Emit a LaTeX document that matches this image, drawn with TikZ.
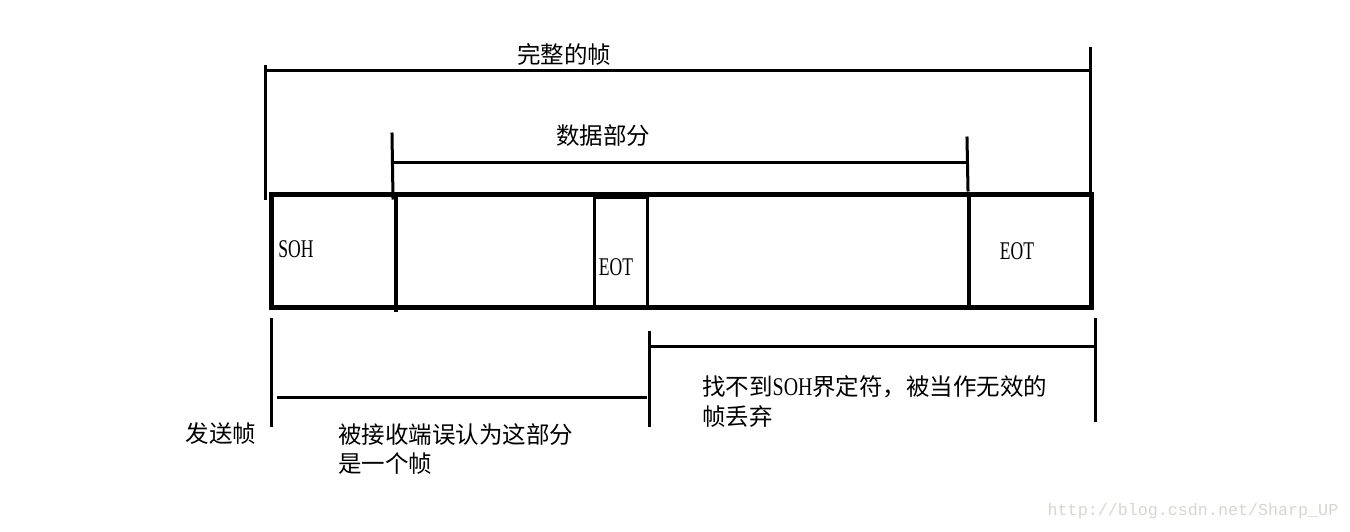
\documentclass[tikz,border=0pt]{standalone}
\usepackage{fontspec}
\setmainfont{Noto Sans CJK SC}
\newfontfamily\lat[FakeStretch=0.69]{Liberation Serif}
\newfontfamily\latin[FakeStretch=0.78]{Liberation Serif}
\newfontfamily\wmfont{Liberation Mono}
\definecolor{wm}{RGB}{214,214,206}
\tikzset{
  thin/.style={line width=3pt, line cap=rect},
  thick box/.style={line width=5pt},
  divider/.style={line width=4pt},
  cjk/.style={inner sep=0pt, font=\fontsize{23.5}{30}\selectfont},
  lbl/.style={inner sep=0pt, font=\lat\fontsize{25.5}{28}\selectfont},
}
\begin{document}
\begin{tikzpicture}[x=1pt,y=-1pt]
\useasboundingbox (0,0) rectangle (1350,531);
% full frame bracket
\coordinate (fL1) at (265,66); \coordinate (fL2) at (265,198);
\coordinate (fR1) at (1090,48); \coordinate (fR2) at (1090,192);
\coordinate (fH1) at (265,70); \coordinate (fH2) at (1090,70);
\draw[thin] (fL1) -- (fL2);
\draw[thin] (fR1) -- (fR2);
\draw[thin] (fH1) -- (fH2);
\node[cjk] (full) at (564,54) {完整的帧};
% data bracket
\coordinate (dL1) at (392,134); \coordinate (dL2) at (393,198);
\coordinate (dR1) at (967,138); \coordinate (dR2) at (968,190);
\coordinate (dH1) at (392,162); \coordinate (dH2) at (967,162);
\draw[thin] (dL1) -- (dL2);
\draw[thin] (dR1) -- (dR2);
\draw[thin,line cap=butt] (dH1) -- (dH2);
\node[cjk] (data) at (603,136) {数据部分};
% main box
\draw[thick box] (271,194) rectangle (1091,307);
\coordinate (v1a) at (396,194); \coordinate (v1b) at (396,312);
\coordinate (v2a) at (969,194); \coordinate (v2b) at (969,310);
\draw[divider] (v1a) -- (v1b);
\draw[divider] (v2a) -- (v2b);
\draw[thin,line cap=butt] (594,197) rectangle (647,307);
\node[lbl] (soh) at (296,249) {SOH};
\node[lbl] (eot1) at (616,267) {EOT};
\node[lbl] (eot2) at (1017,251) {EOT};
% bottom brackets
\coordinate (bL1) at (271,318); \coordinate (bL2) at (271,427);
\coordinate (bM1) at (649,331); \coordinate (bM2) at (649,427);
\coordinate (bR1) at (1095,318); \coordinate (bR2) at (1095,422);
\coordinate (h1a) at (277,397); \coordinate (h1b) at (647,397);
\coordinate (h2a) at (649,346); \coordinate (h2b) at (1095,346);
\draw[thin,line cap=butt] (bL1) -- (bL2);
\draw[thin,line cap=butt] (bM1) -- (bM2);
\draw[thin,line cap=butt] (bR1) -- (bR2);
\draw[thin,line cap=butt] (h1a) -- (h1b);
\draw[thin,line cap=butt] (h2a) -- (h2b);
\node[cjk] (send) at (221,434) {发送帧};
\node[cjk, anchor=north west, align=left, font=\fontsize{23.5}{29}\selectfont] (recv) at (338,423) {被接收端误认为这部分\\是一个帧};
\node[cjk, anchor=north west, align=left, font=\fontsize{23.5}{30}\selectfont] (drop) at (702,375) {找不到{\latin\fontsize{25.5}{30}\selectfont SOH}界定符，被当作无效的\\帧丢弃};
\node[inner sep=0pt, text=wm, font=\wmfont\fontsize{16.7}{20}\selectfont] (wmk) at (1193,511) {http://blog.csdn.net/Sharp\_UP};
\end{tikzpicture}
\end{document}
